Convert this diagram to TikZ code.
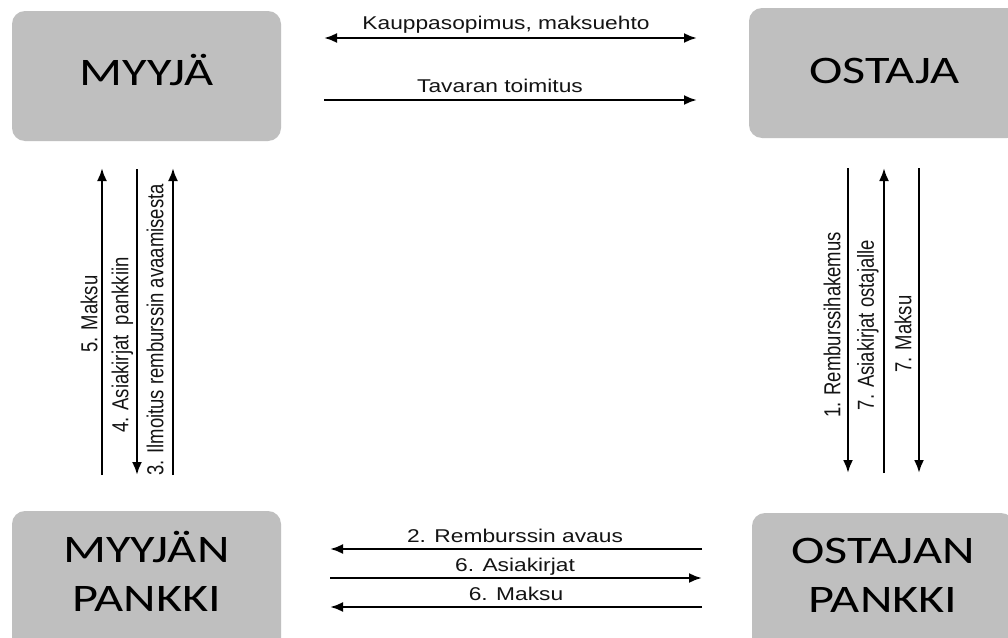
\documentclass[tikz,border=0pt]{standalone}
\usepackage{fontspec}
\setmainfont{Liberation Sans}
\newfontfamily\boxfont{Carlito}
\usepackage{graphicx}
\usetikzlibrary{arrows.meta}
\definecolor{boxgray}{HTML}{BFBFBF}
\definecolor{txt}{HTML}{141414}
\newcommand{\hlab}[1]{\scalebox{1.23}[1]{#1}}
\newcommand{\vlab}[1]{\scalebox{1}[1.25]{#1}}
\newcommand{\blab}[1]{\scalebox{1.29}[1]{#1}}
\begin{document}
\begin{tikzpicture}[x=1pt,y=-1pt,
  party/.style={fill=boxgray, rounded corners=13pt, inner sep=0pt, align=center, text=black,
    font=\boxfont\fontsize{39}{49}\selectfont},
  flow/.style={line width=2.4pt, -{Latex[length=13pt,width=10pt]}},
  dflow/.style={line width=2.4pt, {Latex[length=13pt,width=10pt]}-{Latex[length=13pt,width=10pt]}},
  lab/.style={font=\fontsize{18.5}{22}\selectfont, text=txt, inner sep=0pt},
  vlabel/.style={lab, rotate=90}]
\clip (0,0) rectangle (1008,637);
\fill[white] (0,0) rectangle (1008,637);
% parties
\node[party, minimum width=269pt, minimum height=130pt, text height=25pt, text depth=7pt] (seller) at (146.5,76) {\blab{MYYJÄ}};
\node[party, minimum width=271pt, minimum height=130pt, text height=25pt, text depth=4pt] (buyer) at (884.5,73) {\blab{OSTAJA}};
\node[party, minimum width=269pt, minimum height=140pt, text height=74pt, text depth=13pt] (sbank) at (146.5,581) {\blab{MYYJÄN}\\\blab{PANKKI}};
\node[party, minimum width=262pt, minimum height=140pt, text height=74pt, text depth=16pt] (bbank) at (883,583) {\blab{OSTAJAN}\\\blab{PANKKI}};
% top connectors
\coordinate (t1a) at (324,38);  \coordinate (t1b) at (697,38);
\coordinate (t2a) at (324,100); \coordinate (t2b) at (697,100);
\draw[dflow] (t1a) -- (t1b);
\draw[flow] (t2a) -- (t2b);
\node[lab, anchor=base] (l_kauppa) at (506,29) {\hlab{Kauppasopimus, maksuehto}};
\node[lab, anchor=base] (l_tavara) at (500,92) {\hlab{Tavaran toimitus}};
% bottom connectors
\coordinate (b1a) at (702,549); \coordinate (b1b) at (330,549);
\coordinate (b2a) at (330,578); \coordinate (b2b) at (702,578);
\coordinate (b3a) at (702,607); \coordinate (b3b) at (330,607);
\draw[flow] (b1a) -- (b1b);
\draw[flow] (b2a) -- (b2b);
\draw[flow] (b3a) -- (b3b);
\node[lab, anchor=base] (l_avaus) at (515,542) {\hlab{2. Remburssin avaus}};
\node[lab, anchor=base] (l_asiak6) at (515,571) {\hlab{6. Asiakirjat}};
\node[lab, anchor=base] (l_maksu6) at (516,600) {\hlab{6. Maksu}};
% left verticals
\coordinate (v5a) at (102,475); \coordinate (v5b) at (102,168);
\coordinate (v4a) at (137,169); \coordinate (v4b) at (137,475);
\coordinate (v3a) at (173,475); \coordinate (v3b) at (173,168);
\draw[flow] (v5a) -- (v5b);
\draw[flow] (v4a) -- (v4b);
\draw[flow] (v3a) -- (v3b);
\node[vlabel] (l_maksu5) at (89,314) {\vlab{5. Maksu}};
\node[vlabel] (l_asiak4) at (122.5,345) {\vlab{4. Asiakirjat\ \ pankkiin}};
\node[vlabel] (l_ilmo3) at (155,330) {\vlab{3. Ilmoitus remburssin avaamisesta}};
% right verticals
\coordinate (r1a) at (848,168); \coordinate (r1b) at (848,473);
\coordinate (r7a) at (884,473); \coordinate (r7b) at (884,168);
\coordinate (r8a) at (919,168); \coordinate (r8b) at (919,473);
\draw[flow] (r1a) -- (r1b);
\draw[flow] (r7a) -- (r7b);
\draw[flow] (r8a) -- (r8b);
\node[vlabel] (l_hakemus) at (832,325) {\vlab{1. Remburssihakemus}};
\node[vlabel] (l_asiak7) at (868,325) {\vlab{7. Asiakirjat ostajalle}};
\node[vlabel] (l_maksu7) at (903,334) {\vlab{7. Maksu}};
\end{tikzpicture}
\end{document}
